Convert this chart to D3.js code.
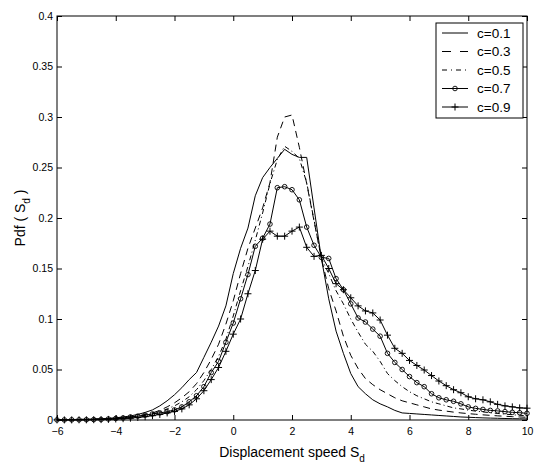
<!DOCTYPE html>
<html><head><meta charset="utf-8">
<script src="https://cdn.jsdelivr.net/npm/d3@7"></script>
<style>
body{margin:0;background:#fff}
svg{display:block}
text{font-family:"Liberation Sans",Arial,Helvetica,sans-serif;fill:#000}
</style>
</head><body>
<svg id="chart" width="535" height="463"></svg>
<script>
// ---------- data ----------
const xGrid = [-6,-5.75,-5.5,-5.25,-5,-4.75,-4.5,-4.25,-4,-3.75,-3.5,-3.25,-3,-2.75,-2.5,-2.25,
  -2,-1.75,-1.5,-1.25,-1,-0.75,-0.5,-0.25,0,0.25,0.5,0.75,1,1.25,1.5,1.75,
  2,2.25,2.5,2.75,3,3.25,3.5,3.75,4,4.25,4.5,4.75,5,5.25,5.5,5.75,
  6,6.25,6.5,6.75,7,7.25,7.5,7.75,8,8.25,8.5,8.75,9,9.25,9.5,9.75,10];

const c01 = [0.0003,0.0004,0.0005,0.0006, 0.0008,0.001,0.0013,0.0017, 0.0022,0.003,0.004,0.0055,
  0.0075,0.01,0.014,0.019, 0.025,0.032,0.04,0.047, 0.062,0.077,0.093,0.113,
  0.145,0.17,0.19,0.222, 0.24,0.25,0.259,0.268, 0.263,0.26,0.26,0.21,
  0.16,0.12,0.088,0.066, 0.046,0.033,0.026,0.02, 0.016,0.013,0.0095,0.007,
  0.0065,0.006,0.0055,0.005, 0.0045,0.004,0.0035,0.003, 0.0027,0.0024,0.0021,0.0019,
  0.0017,0.0015,0.0013,0.0012, 0.001];

const c03 = [0.0002,0.0003,0.0004,0.0005, 0.0006,0.0008,0.001,0.0013, 0.0017,0.0022,0.003,0.004,
  0.0055,0.007,0.0095,0.013, 0.017,0.022,0.028,0.036, 0.047,0.06,0.075,0.095,
  0.118,0.145,0.17,0.19, 0.21,0.235,0.28,0.3, 0.302,0.27,0.234,0.197,
  0.16,0.13,0.108,0.083, 0.064,0.051,0.041,0.035, 0.03,0.026,0.022,0.019,
  0.017,0.015,0.013,0.011, 0.0098,0.0088,0.0078,0.007, 0.0063,0.0057,0.0051,0.0046,
  0.0041,0.0037,0.0033,0.003, 0.0027];

const c05 = [0.0002,0.0002,0.0003,0.0004, 0.0005,0.0007,0.0009,0.0012, 0.0015,0.002,0.0025,0.0035,
  0.0045,0.006,0.008,0.011, 0.014,0.018,0.023,0.03, 0.039,0.05,0.063,0.08,
  0.103,0.128,0.152,0.178, 0.205,0.234,0.258,0.271, 0.266,0.259,0.235,0.198,
  0.16,0.145,0.128,0.115, 0.1,0.087,0.075,0.068, 0.058,0.046,0.039,0.033,
  0.028,0.024,0.021,0.018, 0.016,0.014,0.012,0.011, 0.0098,0.0088,0.008,0.0072,
  0.0065,0.0058,0.0052,0.0047, 0.0042];

const c07 = [0.0001,0.0001,0.0002,0.0002, 0.0003,0.0004,0.0005,0.001, 0.0015,0.002,0.003,0.0038,
  0.0048,0.006,0.007,0.0082, 0.01,0.013,0.018,0.024, 0.033,0.047,0.058,0.077,
  0.096,0.12,0.144,0.172, 0.18,0.194,0.23,0.231, 0.228,0.218,0.191,0.173,
  0.161,0.16,0.14,0.129, 0.115,0.101,0.097,0.09, 0.083,0.066,0.057,0.05,
  0.043,0.037,0.033,0.026, 0.022,0.02,0.0185,0.016, 0.013,0.0115,0.0105,0.0095,
  0.009,0.0083,0.0076,0.0072, 0.0066];

const c09 = [0.0001,0.0001,0.0001,0.0002, 0.0002,0.0003,0.0004,0.0006, 0.001,0.0013,0.0018,0.0025,
  0.0033,0.0043,0.0055,0.007, 0.0085,0.011,0.015,0.021, 0.029,0.04,0.052,0.068,
  0.085,0.1,0.125,0.148, 0.179,0.187,0.182,0.182, 0.187,0.191,0.171,0.162,
  0.163,0.15,0.135,0.129, 0.121,0.113,0.108,0.106, 0.099,0.084,0.071,0.066,
  0.059,0.054,0.0495,0.044, 0.0386,0.034,0.03,0.027, 0.023,0.021,0.02,0.018,
  0.0155,0.014,0.013,0.012, 0.0117];

const seriesNames = ["c=0.1","c=0.3","c=0.5","c=0.7","c=0.9"];
const seriesValues = [c01,c03,c05,c07,c09];
const xTicks = [-6,-4,-2,0,2,4,6,8,10];
const yTicks = [0,0.05,0.1,0.15,0.2,0.25,0.3,0.35,0.4];

// ---------- styles ----------
const styles = [
  {dash:null, legendDash:null, marker:null},
  {dash:"7,5", legendDash:"9,9", marker:null},
  {dash:"5,3,1,3", legendDash:"5,4,1,4", marker:null},
  {dash:null, legendDash:null, marker:"circle"},
  {dash:null, legendDash:null, marker:"plus"}
];

const svg = d3.select("#chart");
const L = 57, R = 527, T = 16, B = 420;
const x = d3.scaleLinear().domain([-6,10]).range([L,R]);
const y = d3.scaleLinear().domain([0,0.4]).range([B,T]);

const fmtX = d => d < 0 ? "\u2212" + Math.abs(d) : String(d);
const fmtY = d => d === 0 ? "0" : String(+d.toFixed(2));

// axes with inward ticks
const tk = 5;
function styleAxis(g){ g.select(".domain").remove(); g.selectAll("line").attr("stroke","#000"); g.selectAll("text").style("font-size","10.5px").attr("fill","#000"); }
svg.append("g").attr("transform",`translate(0,${B})`)
  .call(d3.axisBottom(x).tickValues(xTicks).tickFormat(fmtX).tickSizeInner(-tk).tickSizeOuter(0).tickPadding(8))
  .call(styleAxis);
svg.append("g").attr("transform",`translate(0,${T})`)
  .call(d3.axisTop(x).tickValues(xTicks).tickFormat("").tickSizeInner(-tk).tickSizeOuter(0))
  .call(styleAxis);
svg.append("g").attr("transform",`translate(${L},0)`)
  .call(d3.axisLeft(y).tickValues(yTicks).tickFormat(fmtY).tickSizeInner(-tk).tickSizeOuter(0).tickPadding(4))
  .call(styleAxis);
svg.append("g").attr("transform",`translate(${R},0)`)
  .call(d3.axisRight(y).tickValues(yTicks).tickFormat("").tickSizeInner(-tk).tickSizeOuter(0))
  .call(styleAxis);

svg.append("rect").attr("x",L).attr("y",T).attr("width",R-L).attr("height",B-T)
  .attr("fill","none").attr("stroke","#000").attr("stroke-width",1);

// curves
const line = d3.line().x((d,i)=>x(xGrid[i])).y(d=>y(d));
const plot = svg.append("g");
function drawMarker(g, kind, cx, cy){
  if(kind==="circle"){
    g.append("circle").attr("cx",cx).attr("cy",cy).attr("r",2.3)
      .attr("fill","none").attr("stroke","#000").attr("stroke-width",0.9);
  } else if(kind==="plus"){
    const s=3.5;
    g.append("path").attr("d",`M${cx-s},${cy}H${cx+s}M${cx},${cy-s}V${cy+s}`)
      .attr("stroke","#000").attr("stroke-width",1).attr("fill","none");
  }
}
seriesValues.forEach((vals,k)=>{
  const st = styles[k];
  plot.append("path").datum(vals).attr("d",line).attr("fill","none")
    .attr("stroke","#000").attr("stroke-width",1)
    .attr("stroke-dasharray",st.dash);
  if(st.marker){
    const mg = plot.append("g");
    vals.forEach((v,i)=>drawMarker(mg, st.marker, x(xGrid[i]), y(v)));
  }
});

// axis labels
const xl = svg.append("text").attr("x",(L+R)/2).attr("y",457).attr("text-anchor","middle").style("font-size","14px");
xl.append("tspan").text("Displacement speed S");
xl.append("tspan").attr("dy",5).style("font-size","10px").text("d");

const yl = svg.append("text").attr("transform",`translate(25,${(T+B)/2}) rotate(-90)`)
  .attr("text-anchor","middle").style("font-size","14px");
yl.append("tspan").text("Pdf ( S");
yl.append("tspan").attr("dy",5).style("font-size","10px").text("d");
yl.append("tspan").attr("dy",-5).text(" )");

// legend
const lg = svg.append("g");
lg.append("rect").attr("x",436).attr("y",23).attr("width",87).attr("height",95)
  .attr("fill","#fff").attr("stroke","#000").attr("stroke-width",1);
seriesNames.forEach((name,k)=>{
  const st = styles[k];
  const ry = 33 + k*18.5;
  lg.append("line").attr("x1",442).attr("x2",468).attr("y1",ry).attr("y2",ry)
    .attr("stroke","#000").attr("stroke-width",1).attr("stroke-dasharray",st.legendDash);
  if(st.marker) drawMarker(lg, st.marker, 455, ry);
  lg.append("text").attr("x",477).attr("y",ry).attr("dy","0.35em").style("font-size","13.5px").text(name);
});
</script>
</body></html>
